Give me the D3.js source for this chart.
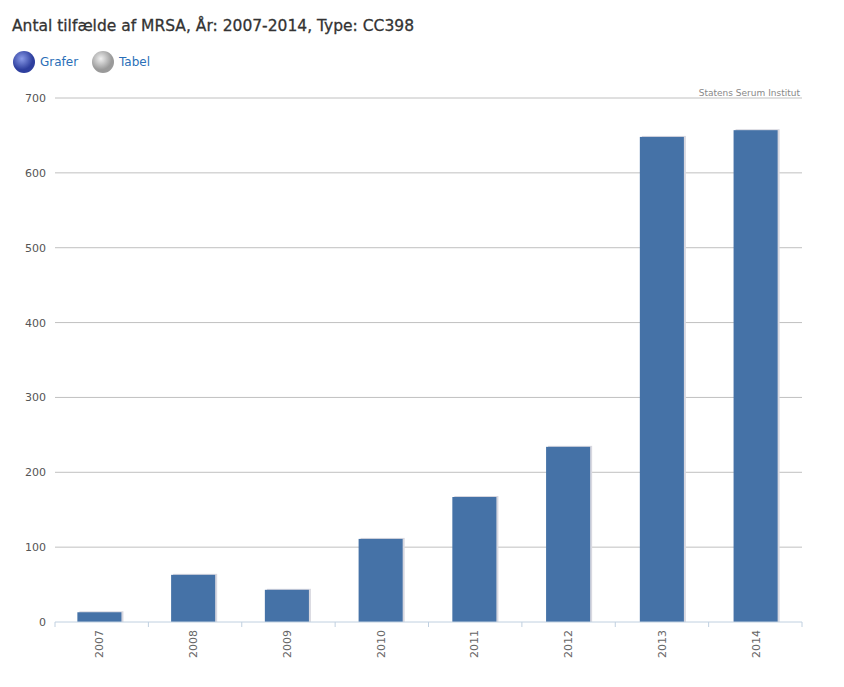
<!DOCTYPE html>
<html><head><meta charset="utf-8">
<script src="https://cdn.jsdelivr.net/npm/d3@7"></script>
<style>
body{margin:0;background:#fff;font-family:"DejaVu Sans",Verdana,sans-serif}
</style></head>
<body><svg id="chart" width="844" height="687"></svg>
<script>
const years = ['2007','2008','2009','2010','2011','2012','2013','2014'];
const cases = [13, 63, 43, 111, 167, 234, 648, 657];
const yTicks = [0, 100, 200, 300, 400, 500, 600, 700];

const svg = d3.select('#chart');
const plotLeft = 55, plotRight = 802, plotTop = 98, plotBottom = 622;

svg.append('text').attr('x', 12).attr('y', 31)
  .attr('font-size', 15.5).attr('fill', '#333').attr('stroke', '#333').attr('stroke-width', 0.3)
  .text('Antal tilfælde af MRSA, År: 2007-2014, Type: CC398');

// icons
const icons = [{x: 24, label: 'Grafer', c1: '#8a9be8', c2: '#2e3f9e'}, {x: 103, label: 'Tabel', c1: '#f0f0f0', c2: '#9a9a9a'}];
const defs = svg.append('defs');
icons.forEach((d, i) => {
  const g = defs.append('radialGradient').attr('id', 'ig' + i).attr('cx', '40%').attr('cy', '35%');
  g.append('stop').attr('offset', '0%').attr('stop-color', d.c1);
  g.append('stop').attr('offset', '100%').attr('stop-color', d.c2);
  svg.append('circle').attr('cx', d.x).attr('cy', 62).attr('r', 11).attr('fill', `url(#ig${i})`);
  svg.append('text').attr('x', d.x + 16).attr('y', 66).attr('font-size', 12)
    .attr('fill', '#2a6fb8').text(d.label);
});

const x = d3.scaleBand().domain(years).range([plotLeft - 2, plotRight]).paddingInner(0.53).paddingOuter(0.26);
const y = d3.scaleLinear().domain([0, 700]).range([plotBottom, plotTop]);

svg.append('g').selectAll('line').data(yTicks.slice(1)).join('line')
  .attr('x1', plotLeft).attr('x2', plotRight).attr('y1', d => y(d)).attr('y2', d => y(d))
  .attr('stroke', '#c0c0c0');
svg.append('g').selectAll('text').data(yTicks).join('text')
  .attr('x', 46).attr('y', d => y(d) + 4).attr('text-anchor', 'end')
  .attr('font-size', 11).attr('fill', '#555').text(d => d);

svg.append('text').attr('x', 800).attr('y', 96).attr('text-anchor', 'end')
  .attr('font-size', 9).attr('fill', '#888').text('Statens Serum Institut');

// bar shadows
svg.append('g').selectAll('rect').data(cases).join('rect')
  .attr('x', (d, i) => x(years[i]) + 2).attr('y', d => y(d) - 1)
  .attr('width', x.bandwidth()).attr('height', d => plotBottom - y(d) + 1)
  .attr('fill', '#d8d8e0');
svg.append('g').selectAll('rect').data(cases).join('rect')
  .attr('x', (d, i) => x(years[i])).attr('y', d => y(d))
  .attr('width', x.bandwidth()).attr('height', d => plotBottom - y(d))
  .attr('fill', '#4572a7');

svg.append('line').attr('x1', plotLeft).attr('x2', plotRight).attr('y1', plotBottom).attr('y2', plotBottom)
  .attr('stroke', '#c0d0e0');
const step = (plotRight - plotLeft) / years.length;
svg.append('g').selectAll('line').data(d3.range(years.length + 1)).join('line')
  .attr('x1', i => plotLeft + i * step).attr('x2', i => plotLeft + i * step)
  .attr('y1', plotBottom).attr('y2', plotBottom + 5).attr('stroke', '#c0d0e0');
svg.append('g').selectAll('text').data(years).join('text')
  .attr('transform', d => `translate(${x(d) + x.bandwidth() / 2 + 4},${plotBottom + 8}) rotate(-90)`)
  .attr('text-anchor', 'end').attr('font-size', 11).attr('fill', '#666').text(d => d);
</script></body></html>
